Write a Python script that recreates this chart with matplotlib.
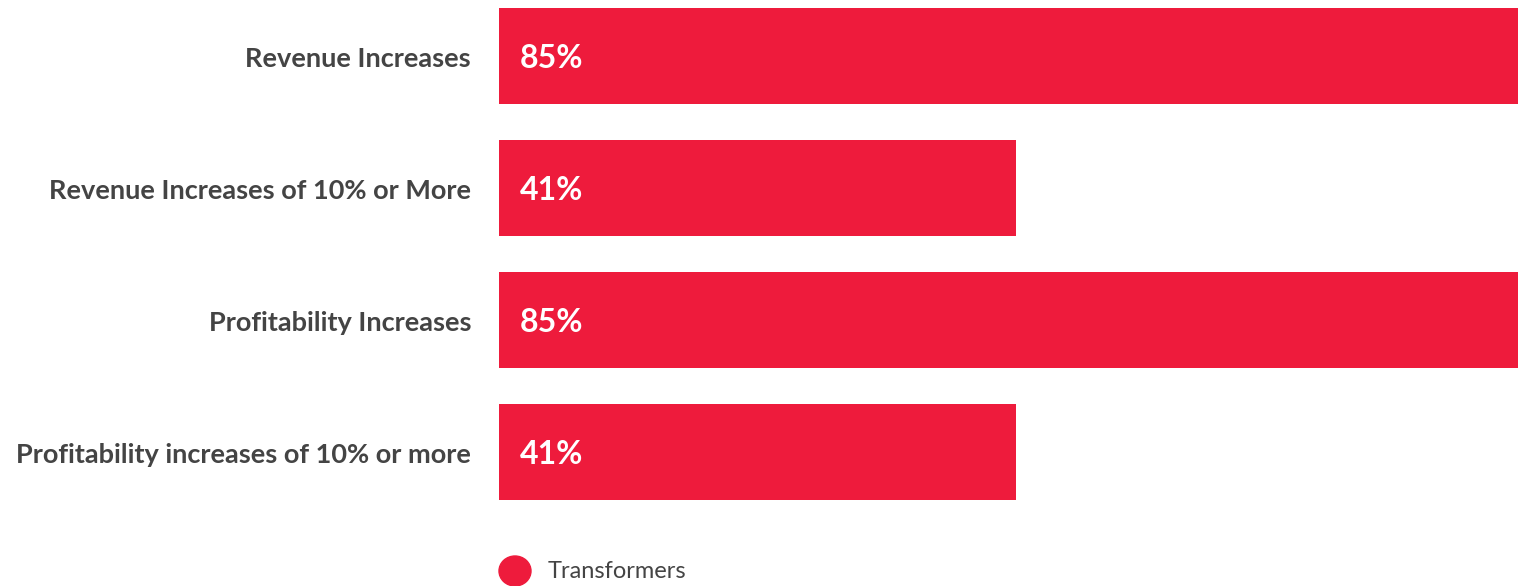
import matplotlib.pyplot as plt
from matplotlib.patches import Ellipse

categories = ["Revenue Increases", "Revenue Increases of 10% or More",
              "Profitability Increases", "Profitability increases of 10% or more"]
values = [85, 41, 85, 41]
series_name = "Transformers"

red = "#EE1B3C"
W, H = 1518, 586

plt.rcParams["font.family"] = ["Lato", "DejaVu Sans"]

fig = plt.figure(figsize=(W / 100, H / 100), dpi=100)
# axes from x=499px to right edge, full height
ax = fig.add_axes([499 / W, 0, 1 - 499 / W, 1])

y = list(range(len(categories)))
ax.barh(y, values, height=96 / 132, color=red)
ax.set_xlim(0, 1019 / 12.61)
ax.set_ylim((586 - 55.5) / 132, -55.5 / 132)

for yi, v in zip(y, values):
    ax.text(1.65, yi + 0.02, f"{v}%", color="white", fontsize=23, fontweight="bold",
            va="center", ha="left")

for yi, c in zip(y, categories):
    ax.text(-28 / 12.61, yi + 0.025, c, color="#444444", fontsize=19.5, fontweight="bold",
            va="center", ha="right", clip_on=False)

ax.axis("off")

# legend
fig.patches.append(Ellipse((515 / W, 1 - 571 / H), 32 / W, 30 / H,
                           transform=fig.transFigure, color=red))
fig.text(548 / W, 1 - 572 / H, series_name, color="#444444", fontsize=17,
         fontweight="normal", va="center", ha="left")

fig.savefig("out.png", dpi=100)
